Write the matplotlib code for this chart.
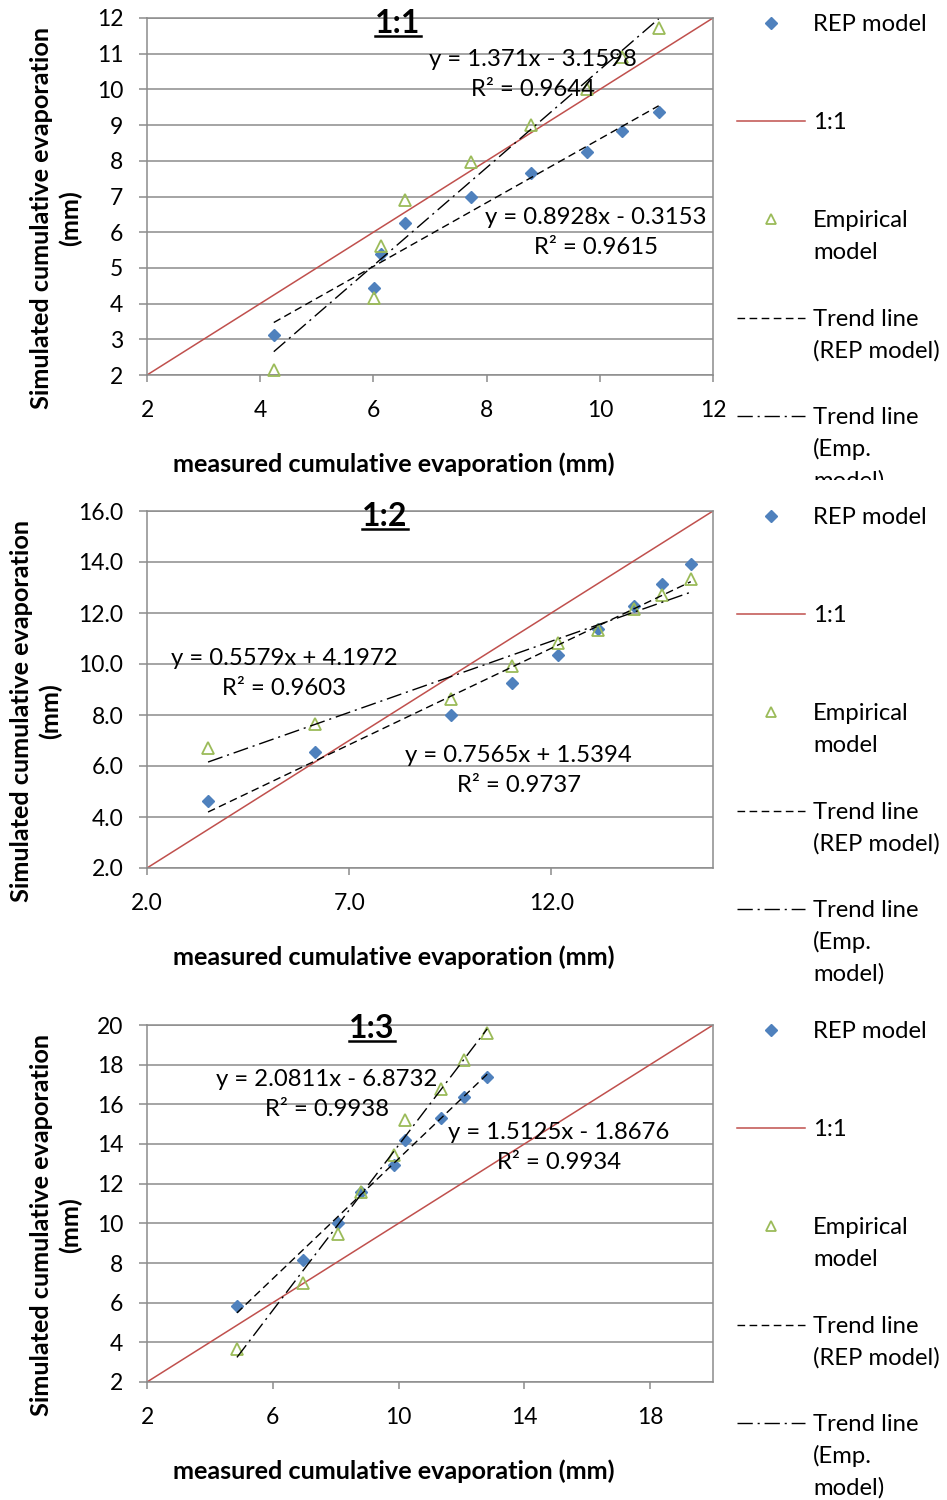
import numpy as np
import matplotlib
matplotlib.use('Agg')
import matplotlib.pyplot as plt
from matplotlib.lines import Line2D
from matplotlib.ticker import FormatStrFormatter
from matplotlib.transforms import Bbox

plt.rcParams['font.family'] = ['Lato', 'DejaVu Sans']

W, H = 947, 1500  # figure size in pixels (dpi 100)

# ---- data ----
# panel 1:1
x1 = [4.24, 6.01, 6.14, 6.55, 7.72, 8.78, 9.78, 10.40, 11.04]
rep1 = [3.12, 4.43, 5.39, 6.25, 7.00, 7.67, 8.26, 8.84, 9.38]
emp1 = [2.14, 4.17, 5.60, 6.89, 7.98, 9.01, 10.00, 10.91, 11.72]
fit1_rep = (0.8928, -0.3153, 0.9615)
fit1_emp = (1.371, -3.1598, 0.9644)

# panel 1:2
x2 = [3.51, 6.16, 9.52, 11.04, 12.17, 13.16, 14.05, 14.74, 15.45]
rep2 = [4.61, 6.54, 8.01, 9.27, 10.36, 11.36, 12.28, 13.15, 13.92]
emp2 = [6.71, 7.63, 8.64, 9.93, 10.81, 11.34, 12.15, 12.71, 13.35]
fit2_rep = (0.7565, 1.5394, 0.9737)
fit2_emp = (0.5579, 4.1972, 0.9603)

# panel 1:3
x3 = [4.86, 6.96, 8.06, 8.80, 9.84, 10.21, 11.35, 12.09, 12.82]
rep3 = [5.81, 8.16, 10.03, 11.58, 12.93, 14.19, 15.32, 16.38, 17.39]
emp3 = [3.67, 6.99, 9.44, 11.60, 13.43, 15.20, 16.77, 18.23, 19.61]
fit3_rep = (1.5125, -1.8676, 0.9934)
fit3_emp = (2.0811, -6.8732, 0.9938)

titles = ['1:1', '1:2', '1:3']
xticks = [[2, 4, 6, 8, 10, 12], [2, 7, 12], [2, 6, 10, 14, 18]]
yticks = [list(range(2, 13)), list(range(2, 17, 2)), list(range(2, 21, 2))]
limits = [(2, 12), (2, 16), (2, 20)]
leg_labels = ['REP model', '1:1', 'Empirical\nmodel',
              'Trend line\n(REP model)', 'Trend line\n(Emp.\nmodel)']

BLUE = '#4F81BD'
GREEN = '#9BBB59'
RED = '#C0504D'
GRID = '#8c8c8c'
FS = 16.5      # tick labels
FS_TXT = 17.2  # equations, legend
FS_LAB = 18.2  # bold axis titles

DASH = (0, (5.5, 3.2))
DASHDOT = (0, (11, 3.5, 1.5, 3.5))


def fx(px):
    return px / W


def fy(py):
    return 1 - py / H


def eq_text(fit):
    a, b, r2 = fit
    sign = '-' if b < 0 else '+'
    return 'y = %sx %s %.4f\nR² = %.4f' % (a, sign, abs(b), r2)


def draw_panel(fig, i, x, rep, emp, fit_rep, fit_emp, top, layout):
    lo, hi = limits[i]
    ax = fig.add_axes([fx(147), fy(top + 357), 566 / W, 357 / H])
    ax.set_xlim(lo, hi)
    ax.set_ylim(lo, hi)
    ax.set_xticks(xticks[i])
    ax.set_yticks(yticks[i])
    if i == 1:
        ax.xaxis.set_major_formatter(FormatStrFormatter('%.1f'))
        ax.yaxis.set_major_formatter(FormatStrFormatter('%.1f'))
    ax.grid(axis='y', color=GRID, lw=1.1)
    ax.set_axisbelow(True)
    for s in ax.spines.values():
        s.set_color(GRID)
        s.set_linewidth(1.1)
    ax.tick_params(axis='y', direction='out', length=6, width=1.1, color=GRID,
                   labelsize=FS, pad=11)
    ax.tick_params(axis='x', direction='out', length=5, width=1.1, color=GRID,
                   labelsize=FS, pad=13)

    x = np.array(x)
    ax.plot(x, rep, 'D', color=BLUE, ms=6.5, zorder=3, clip_on=False)
    ax.plot([lo, hi], [lo, hi], color=RED, lw=1.1, zorder=2)
    ax.plot(x, emp, '^', mfc='none', mec=GREEN, mew=1.3, ms=8.5, zorder=3,
            clip_on=False)
    xx = np.array([x.min(), x.max()])
    ax.plot(xx, fit_rep[0] * xx + fit_rep[1], color='k', lw=1.0, ls=DASH, zorder=4)
    ax.plot(xx, fit_emp[0] * xx + fit_emp[1], color='k', lw=1.0, ls=DASHDOT, zorder=4)

    (ex, ey), (rx, ry) = layout['eq_emp'], layout['eq_rep']
    ax.text(ex, ey, eq_text(fit_emp), transform=ax.transAxes, ha='center',
            va='center', fontsize=FS_TXT, linespacing=1.55)
    ax.text(rx, ry, eq_text(fit_rep), transform=ax.transAxes, ha='center',
            va='center', fontsize=FS_TXT, linespacing=1.55)

    t = ax.text(layout['title_x'], layout['title_y'], titles[i],
                transform=ax.transAxes, ha='center', va='center',
                fontsize=23, fontweight='bold')

    # axis titles
    fig.text(fx(394), fy(top + 446), 'measured cumulative evaporation (mm)',
             ha='center', va='center', fontsize=FS_LAB, fontweight='bold')
    fig.text(fx(layout['ylab_x']), fy(top + 200),
             'Simulated cumulative evaporation\n(mm)', rotation=90,
             ha='center', va='center', multialignment='center',
             fontsize=FS_LAB, fontweight='bold', linespacing=1.3)

    # legend, drawn by hand so markers line up with the first text line
    clip = None
    if layout.get('clip') is not None:
        clip = Bbox([[0, H - layout['clip']], [W, H]])
    handles = [dict(marker='D', color=BLUE, ms=6, ls='none'),
               dict(color=RED, lw=1.1),
               dict(marker='^', mfc='none', mec=GREEN, mew=1.3, ms=7, ls='none'),
               dict(color='k', lw=1.0, ls=DASH),
               dict(color='k', lw=1.0, ls=DASHDOT)]
    for k, (lab, hd) in enumerate(zip(leg_labels, handles)):
        y0 = top + 5 + k * 98.2
        if hd.get('ls') == 'none':
            fig.add_artist(Line2D([fx(771)], [fy(y0)], **hd))
        else:
            fig.add_artist(Line2D([fx(737), fx(805)], [fy(y0), fy(y0)], **hd))
        for j, line in enumerate(lab.split('\n')):
            tt = fig.text(fx(813), fy(y0 + 1.5 + j * 32), line, ha='left',
                          va='center', fontsize=FS_TXT)
            if clip is not None:
                tt.set_clip_box(clip)
                tt.set_clip_on(True)
    return t


fig = plt.figure(figsize=(W / 100, H / 100), dpi=100)

layouts = [
    dict(eq_emp=(0.682, 0.842), eq_rep=(0.793, 0.399), title_x=0.4435,
         title_y=0.985, ylab_x=56, clip=480),
    dict(eq_emp=(0.242, 0.545), eq_rep=(0.657, 0.273), title_x=0.4205,
         title_y=0.985, ylab_x=36),
    dict(eq_emp=(0.318, 0.806), eq_rep=(0.728, 0.657), title_x=0.3975,
         title_y=0.99, ylab_x=56),
]
data = [(x1, rep1, emp1, fit1_rep, fit1_emp, 18),
        (x2, rep2, emp2, fit2_rep, fit2_emp, 511),
        (x3, rep3, emp3, fit3_rep, fit3_emp, 1025)]

title_texts = []
for i, (x, rep, emp, frep, femp, top) in enumerate(data):
    title_texts.append(draw_panel(fig, i, x, rep, emp, frep, femp, top, layouts[i]))

# underline the panel titles
fig.canvas.draw()
inv = fig.transFigure.inverted()
for t in title_texts:
    bb = t.get_window_extent()
    (x0, y0), (x1_, _) = inv.transform([[bb.x0, bb.y0 + 2], [bb.x1, bb.y0 + 2]])
    fig.add_artist(Line2D([x0, x1_], [y0, y0], color='k', lw=1.8))

fig.savefig('out.png', dpi=100)
